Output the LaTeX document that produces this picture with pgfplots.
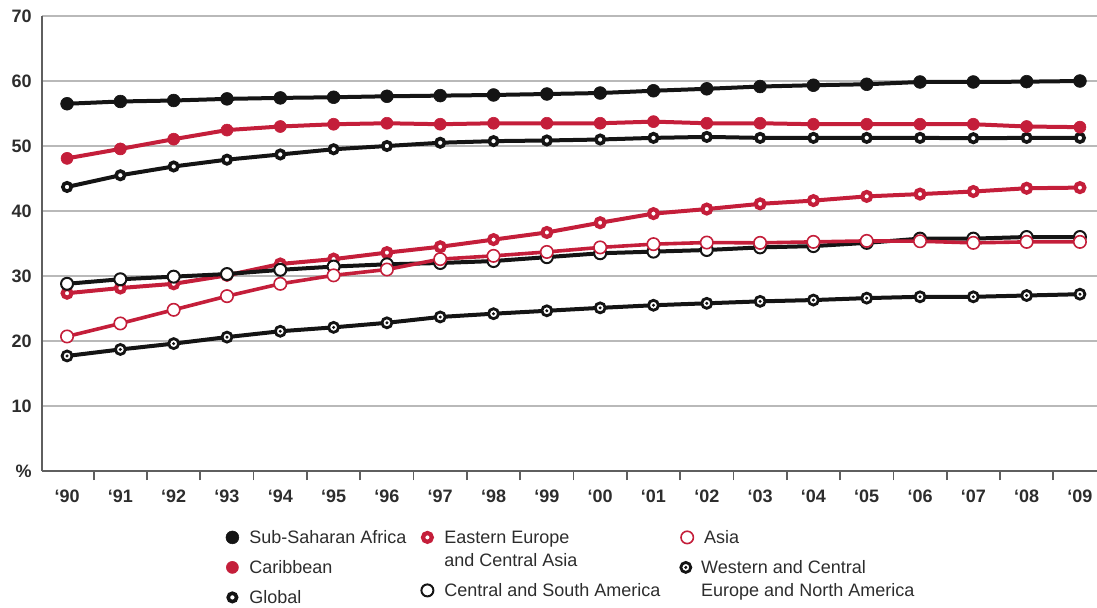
\documentclass[border=0pt]{standalone}
\usepackage{fontspec}
\setmainfont{Liberation Sans}
\usepackage{pgfplots}
\usepackage{pgfplotstable}
\pgfplotsset{compat=1.18}

\definecolor{hivred}{RGB}{196,30,58}
\definecolor{ink}{RGB}{20,20,20}
\definecolor{axisgray}{RGB}{95,95,95}
\definecolor{gridgray}{RGB}{185,185,185}
\definecolor{labelgray}{RGB}{45,45,45}

% share of women among adults living with HIV, 1990-2009
\pgfplotstableread{
yr  ssa    car    glob   eeca   asia   csa    wce
0   56.5   48.1   43.7   27.35  20.7   28.8   17.7
1   56.85  49.55  45.5   28.15  22.7   29.5   18.7
2   57.0   51.05  46.85  28.8   24.8   29.9   19.6
3   57.25  52.45  47.9   30.1   26.9   30.3   20.6
4   57.4   53.0   48.7   31.85  28.8   30.95  21.5
5   57.5   53.35  49.5   32.6   30.1   31.45  22.1
6   57.65  53.5   50.0   33.6   31.0   31.8   22.8
7   57.75  53.35  50.5   34.5   32.6   32.0   23.7
8   57.85  53.5   50.75  35.6   33.1   32.3   24.2
9   58.0   53.5   50.85  36.7   33.7   32.9   24.65
10  58.15  53.5   51.0   38.2   34.4   33.5   25.1
11  58.5   53.75  51.25  39.6   34.9   33.75  25.5
12  58.8   53.5   51.4   40.3   35.15  34.0   25.8
13  59.15  53.5   51.25  41.1   35.1   34.4   26.1
14  59.35  53.35  51.25  41.6   35.25  34.6   26.3
15  59.5   53.35  51.25  42.25  35.4   35.1   26.6
16  59.85  53.35  51.25  42.6   35.35  35.75  26.8
17  59.85  53.35  51.2   43.0   35.1   35.75  26.8
18  59.9   53.0   51.25  43.5   35.25  36.0   27.0
19  60.0   52.9   51.25  43.6   35.25  36.0   27.2
}\hivdata

\pgfplotsset{
  serSSA/.style={ink, line width=2pt, mark=*, mark size=3.2pt, mark options={line width=0.3pt, fill=ink}},
  serCAR/.style={hivred, line width=2pt, mark=*, mark size=3.0pt, mark options={line width=0.3pt, fill=hivred}},
  serGLB/.style={ink, line width=2pt, mark=*, mark size=2.1pt, mark options={line width=1.8pt, fill=white}},
  serEEC/.style={hivred, line width=2pt, mark=*, mark size=2.2pt, mark options={line width=2.1pt, fill=white}},
  serASI/.style={hivred, line width=1.8pt, mark=*, mark size=3.1pt, mark options={line width=0.8pt, fill=white}},
  serCSA/.style={ink, line width=2pt, mark=*, mark size=3.0pt, mark options={line width=1.0pt, fill=white}},
  serWCE/.style={ink, line width=2pt, mark=*, mark size=2.5pt, mark options={line width=1.4pt, fill=white}},
  legcol/.style={
    hide axis, scale only axis, width=1pt, height=1pt, anchor=north west,
    xmin=0, xmax=1, ymin=0, ymax=1,
    legend style={at={(0,1)}, anchor=north west, draw=none, fill=none,
      inner sep=0pt, column sep=3.5pt,
      font=\fontsize{9}{11.5}\selectfont\color{labelgray},
      cells={anchor=base west}, nodes={inner sep=0pt}},
    legend image code/.code={\path (-4pt,0pt) (4pt,0pt); \draw[##1] plot coordinates {(0pt,3.2pt)};},
  },
}

% one legend entry, placed by the top left of its first line
\newcommand{\legentry}[3]{%
  \begin{axis}[legcol, at={(#1)}]
  \addlegendimage{#2}\addlegendentry{#3}
  \end{axis}}

\begin{document}
\begin{tikzpicture}
\begin{axis}[
  scale only axis, width=527.5pt, height=227.5pt,
  xmin=-0.47, xmax=19.32, ymin=0, ymax=70,
  axis lines*=left,
  axis line style={axisgray, line width=0.85pt},
  xtick={0,...,19},
  xticklabels={‘90,‘91,‘92,‘93,‘94,‘95,‘96,‘97,‘98,‘99,‘00,‘01,‘02,‘03,‘04,‘05,‘06,‘07,‘08,‘09},
  minor xtick={0.5,1.5,...,18.5},
  major tick length=0pt, minor tick length=4.5pt, tick align=outside,
  minor tick style={axisgray, line width=0.85pt},
  ytick={0,10,...,70},
  yticklabels={\%,10,20,30,40,50,60,70},
  ymajorgrids, grid style={gridgray, line width=0.6pt},
  tick label style={font=\fontsize{9}{11}\selectfont\bfseries, text=labelgray},
  xticklabel style={anchor=north, inner sep=0pt, yshift=-9.5pt},
  yticklabel style={anchor=east, inner sep=0pt, xshift=-5pt},
  clip=false,
]
\addplot[serWCE] table[x=yr, y=wce] {\hivdata};
\addplot[only marks, ink, mark=*, mark size=0.55pt] table[x=yr, y=wce] {\hivdata};
\addplot[serEEC] table[x=yr, y=eeca] {\hivdata};
\addplot[serCSA] table[x=yr, y=csa] {\hivdata};
\addplot[serASI] table[x=yr, y=asia] {\hivdata};
\addplot[serGLB] table[x=yr, y=glob] {\hivdata};
\addplot[serCAR] table[x=yr, y=car] {\hivdata};
\addplot[serSSA] table[x=yr, y=ssa] {\hivdata};
\end{axis}

\legentry{90pt,-28.15pt}{serSSA, only marks}{\strut Sub-Saharan Africa}
\legentry{90pt,-43.15pt}{serCAR, only marks}{\strut Caribbean}
\legentry{90pt,-58.15pt}{serGLB, only marks}{\strut Global}
\legentry{187.5pt,-28.15pt}{serEEC, only marks}{\begin{tabular}[t]{@{}l@{}}Eastern Europe\\and Central Asia\end{tabular}}
\legentry{187.5pt,-54.65pt}{serCSA, only marks}{\strut Central and South America}
\legentry{317.5pt,-28.15pt}{serASI, only marks}{\strut Asia}
\legentry{317.5pt,-43.15pt}{legend image code/.code={\path (-4pt,0pt) (4pt,0pt);
    \draw[ink, line width=1.4pt, fill=white] (0pt,3.2pt) circle (2.5pt);
    \fill[ink] (0pt,3.2pt) circle (0.55pt);}}{\begin{tabular}[t]{@{}l@{}}Western and Central\\Europe and North America\end{tabular}}

\pgfresetboundingbox
\path[use as bounding box] (-21pt,-68pt) rectangle (527.5pt,235.5pt);
\end{tikzpicture}
\end{document}
